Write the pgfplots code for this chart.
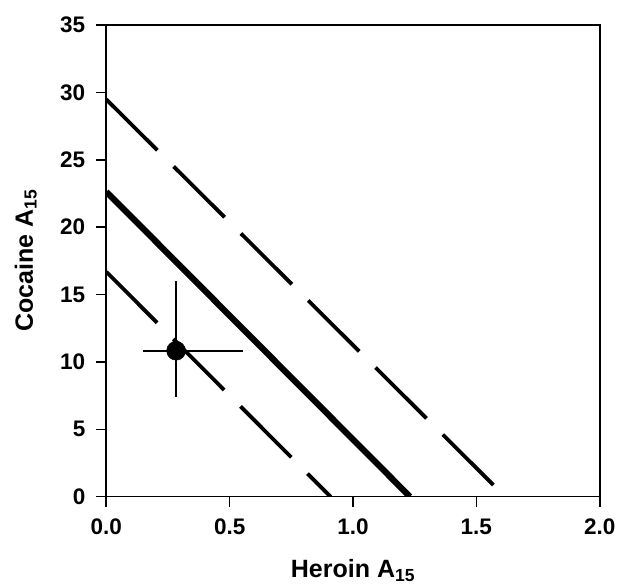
\documentclass[border=0pt]{standalone}
\usepackage{fontspec}
\setmainfont{Liberation Sans}
\usepackage{pgfplots}
\pgfplotsset{compat=1.18}

\begin{document}
\begin{tikzpicture}
\begin{axis}[
    scale only axis,
    width=493.4pt,
    height=471.7pt,
    xmin=0, xmax=2,
    ymin=0, ymax=35,
    xtick={0,0.5,1,1.5,2},
    ytick={0,5,10,15,20,25,30,35},
    xtick pos=bottom,
    ytick pos=left,
    tick align=outside,
    major tick length=10.5pt,
    axis line style={line width=1.6pt},
    tick style={line width=1.6pt, black},
    /pgf/number format/assume math mode=true,
    tick label style={font=\fontsize{22.5}{26}\selectfont\bfseries},
    x tick label style={yshift=-8pt,/pgf/number format/.cd,fixed,fixed zerofill,precision=1,/tikz/.cd},
    y tick label style={xshift=-7pt},
    xlabel={\textbf{Heroin A\textsubscript{15}}},
    ylabel={\textbf{Cocaine A\textsubscript{15}}},
    label style={font=\fontsize{25}{29}\selectfont},
    xlabel style={at={(axis description cs:0.5,-0.1717)}, anchor=base},
    ylabel style={at={(axis description cs:-0.1486,0.5)}, anchor=base},
]
% upper limit (dashed)
\addplot[black, line width=3.8pt, dash pattern=on 72pt off 23pt]
    coordinates {(0,29.48) (1.569,0.87)};
% mean line (solid)
\addplot[black, line width=6.2pt]
    coordinates {(0,22.63) (1.231,0)};
% lower limit (dashed)
\addplot[black, line width=3.8pt, dash pattern=on 72pt off 23pt]
    coordinates {(0,16.69) (0.909,0)};
% measured point with error bars
\addplot[black, mark=*, mark size=9.5pt, only marks,
    error bars/.cd, x dir=both, x explicit, y dir=both, y explicit,
    error mark=none, error bar style={line width=1.6pt, black}]
    coordinates {(0.283,10.83) += (0.270,5.17) -= (0.135,3.41)};
\end{axis}
\pgfresetboundingbox
\path (current axis.south west) ++(-106.3pt,-91.3pt) rectangle ++(618pt,588pt);
\end{tikzpicture}
\end{document}
